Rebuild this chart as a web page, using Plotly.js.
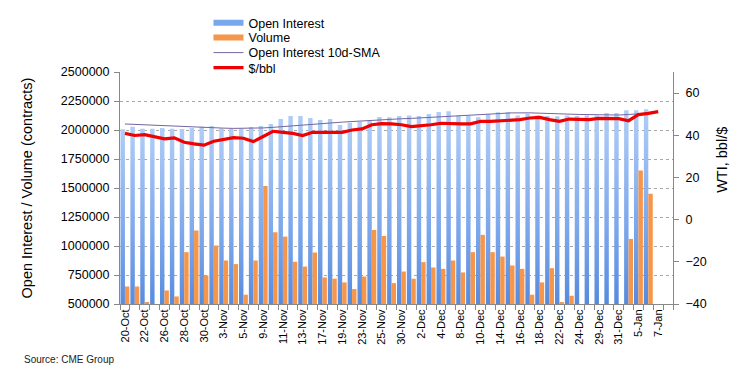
<!DOCTYPE html>
<html>
<head>
<meta charset="utf-8">
<script src="https://cdn.plot.ly/plotly-3.0.1.min.js"></script>
<style>
  html, body { margin: 0; padding: 0; background: #fff; }
  #chart { width: 750px; height: 388px; }
</style>
</head>
<body>
<div id="chart"></div>
<script>
// ---- data ----
const dates = ['20-Oct','21-Oct','22-Oct','23-Oct','26-Oct','27-Oct','28-Oct','29-Oct','30-Oct',
  '2-Nov','3-Nov','4-Nov','5-Nov','6-Nov','9-Nov','10-Nov','11-Nov','12-Nov','13-Nov','16-Nov',
  '17-Nov','18-Nov','19-Nov','20-Nov','23-Nov','24-Nov','25-Nov','27-Nov','30-Nov',
  '1-Dec','2-Dec','3-Dec','4-Dec','7-Dec','8-Dec','9-Dec','10-Dec','11-Dec','14-Dec','15-Dec',
  '16-Dec','17-Dec','18-Dec','21-Dec','22-Dec','23-Dec','24-Dec','28-Dec','29-Dec','30-Dec','31-Dec',
  '4-Jan','5-Jan','6-Jan','7-Jan','8-Jan'];

const openInterest = [2006000,2027000,2010000,2010000,2018000,2010000,2009000,2018000,2027000,
  2035000,2013000,2012000,2013000,2026000,2035000,2052000,2095000,2121000,2121000,2103000,
  2086000,2095000,2043000,2063000,2072000,2080000,2112000,2110000,2121000,
  2126000,2121000,2138000,2155000,2161000,2126000,2126000,2109000,2138000,2152000,2152000,
  2124000,2141000,2126000,2121000,2118000,2126000,2121000,2126000,2126000,2147000,2147000,
  2170000,2170000,2178000,null,null];

const volume = [651000,651000,517000,470000,617000,565000,947000,1133000,746000,
  1004000,875000,844000,580000,875000,1517000,1119000,1081000,864000,823000,944000,
  729000,718000,686000,629000,737000,1139000,1087000,680000,780000,
  718000,861000,815000,803000,875000,772000,947000,1096000,947000,909000,832000,
  803000,580000,686000,809000,517000,571000,420000,380000,400000,390000,350000,
  1061000,1650000,1450000,null,null];

const oiSma10 = [2052000,2048000,2043000,2038000,2034000,2031000,2028000,2025000,2022000,
  2019000,2016000,2014000,2014000,2015000,2018000,2023000,2030000,2038000,2046000,2052000,
  2057000,2063000,2068000,2073000,2079000,2084000,2089000,2093000,2097000,
  2100000,2104000,2108000,2113000,2119000,2124000,2128000,2132000,2137000,2142000,2147000,
  2149000,2148000,2145000,2141000,2137000,2135000,2134000,2133000,2130000,2127000,2129000,
  2134000,2139000,2144000,null,null];

const wtiPrice = [40.9,39.9,40.3,39.4,38.3,38.8,36.7,35.9,35.3,
  37.2,38.1,38.9,38.6,37.0,39.4,41.9,41.4,40.9,39.9,41.4,
  41.4,41.4,41.4,42.5,43.0,45.0,45.5,45.4,45.0,
  44.1,44.5,45.0,45.7,45.4,45.4,45.4,46.6,46.6,46.9,47.3,
  47.4,48.2,48.5,47.4,46.6,47.7,47.5,47.4,48.0,48.0,47.9,
  46.9,49.8,50.4,51.2,null];

const leftTicks = [500000,750000,1000000,1250000,1500000,1750000,2000000,2250000,2500000];
const tickLabels = dates.map((d, i) => (i % 2 === 0 ? d : ''));
const seriesNames = ['Open Interest', 'Volume', 'Open Interest 10d-SMA', '$/bbl'];

const FONT = 'Liberation Sans, Arial, Helvetica, sans-serif';
const C_OI = '#6f9fe8', C_VOL = '#f6964a', C_SMA = '#75659f', C_PX = '#f00000';

const traces = [
  { type: 'bar', name: seriesNames[0], x: dates, y: openInterest, showlegend: false,
    marker: { color: C_OI, line: { width: 0 } }, yaxis: 'y' },
  { type: 'bar', name: seriesNames[1], x: dates, y: volume, showlegend: false,
    marker: { color: C_VOL, line: { width: 0 } }, yaxis: 'y' },
  { type: 'scatter', mode: 'lines', name: seriesNames[2], x: dates, y: oiSma10,
    line: { color: C_SMA, width: 1 }, yaxis: 'y', legend: 'legend3' },
  { type: 'scatter', mode: 'lines', name: seriesNames[3], x: dates, y: wtiPrice,
    line: { color: C_PX, width: 3.2 }, yaxis: 'y2', legend: 'legend4' },
  // legend keys for the two bar series (wide flat swatches as in the reference)
  { type: 'scatter', mode: 'lines', name: seriesNames[0], x: [null], y: [null],
    line: { color: '#7aa8ec', width: 6 }, legend: 'legend', hoverinfo: 'skip' },
  { type: 'scatter', mode: 'lines', name: seriesNames[1], x: [null], y: [null],
    line: { color: C_VOL, width: 6 }, legend: 'legend2', hoverinfo: 'skip' }
];

function legendAt(yCenterPaper) {
  return { x: 0.16, xanchor: 'left', y: yCenterPaper, yanchor: 'middle',
    font: { family: FONT, size: 12.5, color: '#000' }, bgcolor: 'rgba(0,0,0,0)',
    itemwidth: 30, borderwidth: 0 };
}

const layout = {
  width: 750, height: 388,
  margin: { l: 120, r: 77, t: 72, b: 84, pad: 0, autoexpand: false },
  paper_bgcolor: '#ffffff', plot_bgcolor: '#ffffff',
  font: { family: FONT, size: 12.5, color: '#000' },
  barmode: 'group', bargap: 0.1, bargroupgap: 0,
  showlegend: true,
  legend: legendAt(1.211),
  legend2: legendAt(1.147),
  legend3: legendAt(1.082),
  legend4: legendAt(1.017),
  xaxis: {
    type: 'category', tickmode: 'array', tickvals: dates, ticktext: tickLabels,
    tickangle: -90, tickfont: { family: FONT, size: 11, color: '#000' },
    ticks: 'outside', ticklen: 5, tickcolor: '#888', tickson: 'boundaries',
    showline: true, linecolor: '#888', linewidth: 1, showgrid: false, zeroline: false,
    range: [-0.5, dates.length - 0.5], fixedrange: true
  },
  yaxis: {
    range: [500000, 2500000], tickmode: 'array', tickvals: leftTicks,
    ticktext: leftTicks.map(String),
    tickfont: { family: FONT, size: 12.5, color: '#000' },
    ticks: 'outside', ticklen: 5, tickcolor: '#888', ticklabelstandoff: 2,
    showline: true, linecolor: '#888', linewidth: 1,
    showgrid: true, gridcolor: '#a8a8a8', griddash: 'dot', gridwidth: 1, zeroline: false,
    title: { text: 'Open Interest / Volume (contracts)', font: { family: FONT, size: 14.5, color: '#000' }, standoff: 24 },
    fixedrange: true
  },
  yaxis2: {
    overlaying: 'y', side: 'right', range: [-40, 70], tick0: -40, dtick: 20,
    tickfont: { family: FONT, size: 12.5, color: '#000' },
    ticks: 'outside', ticklen: 5, tickcolor: '#888', ticklabelstandoff: 4,
    showline: true, linecolor: '#888', linewidth: 1, showgrid: false, zeroline: false,
    fixedrange: true
  },
  annotations: [
    { text: 'WTI, bbl/$', xref: 'paper', yref: 'paper', x: 1.088, y: 0.62,
      xanchor: 'center', yanchor: 'middle', textangle: -90, showarrow: false,
      font: { family: FONT, size: 14.5, color: '#000' } },
    { text: 'Source: CME Group', xref: 'paper', yref: 'paper', x: -0.178, y: -0.241,
      xanchor: 'left', yanchor: 'middle', showarrow: false,
      font: { family: FONT, size: 10, color: '#222' } }
  ]
};

Plotly.newPlot('chart', traces, layout, { staticPlot: true, displayModeBar: false, responsive: false })
  .then(function (gd) {
    // vertical gradient fill for the Open Interest bars (light top, dark bottom)
    const ns = 'http://www.w3.org/2000/svg';
    const svg = gd.querySelector('svg.main-svg');
    let defs = svg.querySelector('defs');
    if (!defs) { defs = document.createElementNS(ns, 'defs'); svg.insertBefore(defs, svg.firstChild); }
    const grad = document.createElementNS(ns, 'linearGradient');
    grad.setAttribute('id', 'oiGrad');
    grad.setAttribute('x1', '0'); grad.setAttribute('y1', '0');
    grad.setAttribute('x2', '0'); grad.setAttribute('y2', '1');
    [['0', '#b0cdf6'], ['0.45', '#7ea8ec'], ['1', '#3a74d2']].forEach(function (s) {
      const st = document.createElementNS(ns, 'stop');
      st.setAttribute('offset', s[0]); st.setAttribute('stop-color', s[1]);
      grad.appendChild(st);
    });
    defs.appendChild(grad);
    const barTraces = gd.querySelectorAll('.barlayer .trace');
    if (barTraces.length) {
      barTraces[0].querySelectorAll('path').forEach(function (p) { p.style.fill = 'url(#oiGrad)'; });
    }
  });
</script>
</body>
</html>
